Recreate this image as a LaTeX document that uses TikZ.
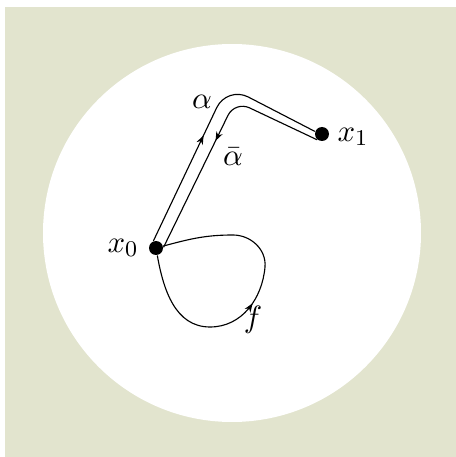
\documentclass[tikz,border=0pt]{standalone}
\usetikzlibrary{arrows.meta,decorations.markings}
\definecolor{paleolive}{RGB}{226,228,206}
\tikzset{
  dot/.style={circle,fill=black,inner sep=0pt,minimum size=1.75mm},
  midarrow/.style={postaction={decorate},
    decoration={markings,mark=at position #1 with {\arrow{Stealth[length=3.2pt,width=2.4pt,inset=1pt]}}}},
}
\begin{document}
\begin{tikzpicture}[x=1.25mm,y=1.25mm,font=\fontsize{11}{13}\selectfont]

   \useasboundingbox (0,0) rectangle (45.6,45.7);
   \fill [paleolive] (0.5,0) rectangle (45.6,45.0);
   \fill [white] (23.2,22.4) circle[radius=18.9];

   \node[dot] (x0) at (15.6,20.9) {};
   \node[dot] (x1) at (32.2,32.3) {};

   % alpha and its reverse
   \draw[thin,rounded corners=3mm,midarrow=0.45] (x0.110) -- (22.7,37.1) -- (x1.160);
   \draw[thin,rounded corners=2mm,midarrow=0.52] (x1.230) -- (23.5,35.6) -- (x0.5);

   % loop f
   \draw[thin,midarrow=0.48] (x0) to[out=-80,in=180] (21.0,13.0) to[out=0,in=-95] (26.5,19.0)
        to[out=85,in=0] (23.3,22.2) to[out=180,in=15] (x0);

   \node (lx0) at (12.3,20.9) {$x_0$};
   \node (lx1) at (35.3,32.0) {$x_1$};
   \node (la) at (20.2,35.5) {$\alpha$};
   \node (lab) at (23.3,30.0) {$\bar\alpha$};
   \node (lf) at (25.3,13.7) {$f$};

\end{tikzpicture}
\end{document}
